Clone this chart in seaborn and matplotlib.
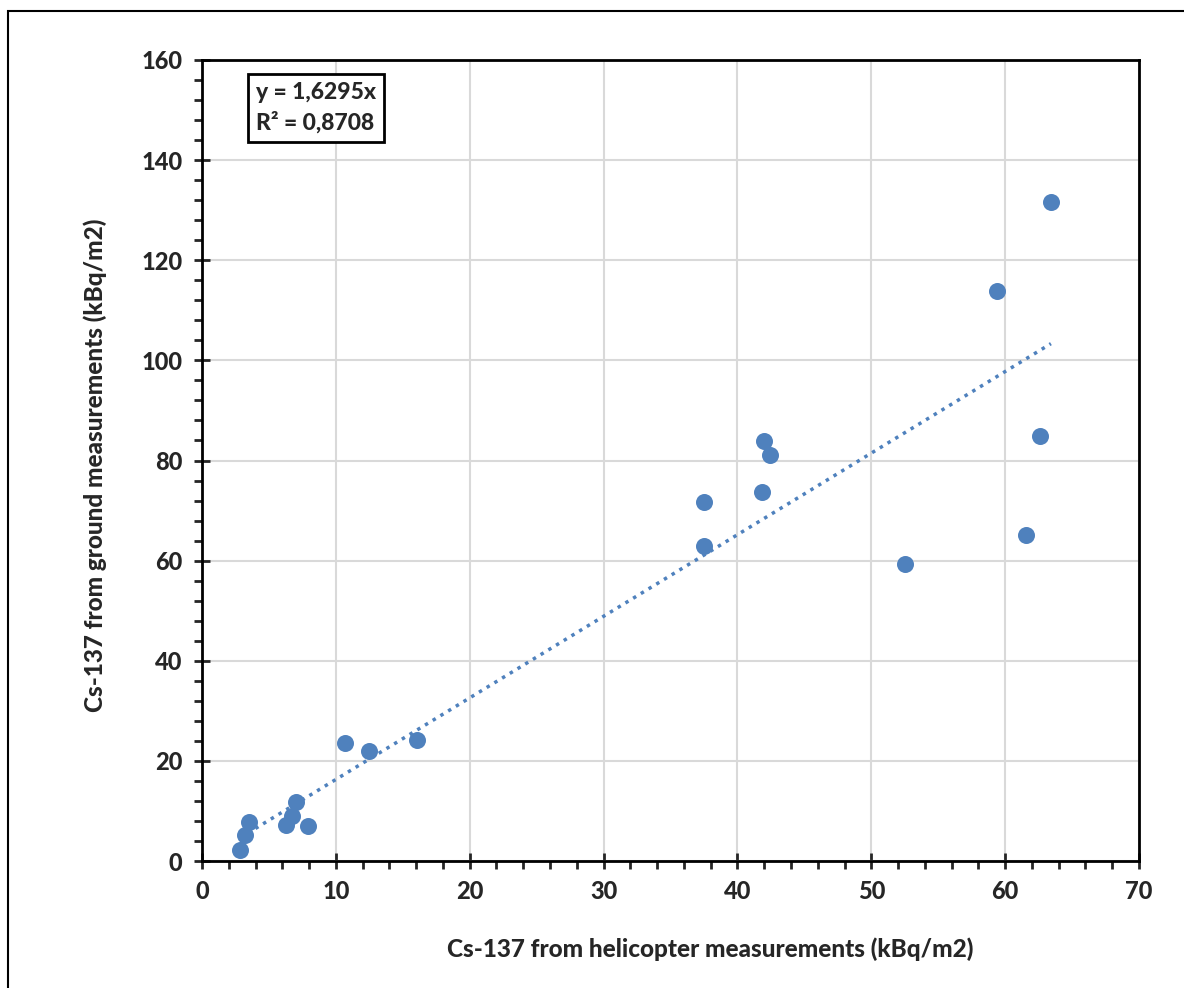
import numpy as np
import pandas as pd
import seaborn as sns
import matplotlib.pyplot as plt
from matplotlib.patches import Rectangle
from matplotlib.ticker import MultipleLocator

# Cs-137 deposition, helicopter vs ground (kBq/m2)
heli = [2.84, 3.21, 3.51, 6.28, 6.72, 7.02, 7.92, 10.68, 12.48, 16.06,
        37.5, 37.5, 41.83, 41.98, 42.43, 52.52, 59.39, 61.56, 62.6, 63.42]
ground = [2.2, 5.2, 7.8, 7.2, 9.0, 11.8, 7.0, 23.6, 22.0, 24.2,
          62.9, 71.7, 73.7, 83.9, 81.1, 59.3, 113.9, 65.1, 84.9, 131.6]
slope = 1.6295
r2_text = "0,8708"

df = pd.DataFrame({"heli": heli, "ground": ground})
trend = pd.DataFrame({"heli": [min(heli), max(heli)]})
trend["ground"] = slope * trend["heli"]

sns.set_style("white")
plt.rcParams["font.family"] = ["Lato", "DejaVu Sans"]
W = 900  # heavy weight to mimic the bold Calibri of the original

blue = "#4F81BD"
fig = plt.figure(figsize=(11.84, 9.88), dpi=100)
ax = fig.add_axes([0.1706, 0.1285, 0.7914, 0.8108])

ax.grid(True, color="#d9d9d9", linewidth=1.5, zorder=0)
ax.set_axisbelow(True)

sns.lineplot(data=trend, x="heli", y="ground", ax=ax, color=blue,
             linestyle=(0, (1, 1.6)), linewidth=2.5, zorder=2)
sns.scatterplot(data=df, x="heli", y="ground", ax=ax, color=blue, s=150,
                edgecolor=blue, linewidth=0, zorder=3)

ax.set_xlim(0, 70)
ax.set_ylim(0, 160)
ax.xaxis.set_major_locator(MultipleLocator(10))
ax.xaxis.set_minor_locator(MultipleLocator(2))
ax.yaxis.set_major_locator(MultipleLocator(20))
ax.yaxis.set_minor_locator(MultipleLocator(4))
ax.tick_params(which="major", direction="inout", length=12, width=2, labelsize=17, pad=8)
ax.tick_params(which="minor", direction="out", length=6, width=2)
ax.tick_params(axis="both", which="both", bottom=True, left=True, top=False, right=False)
for lbl in ax.get_xticklabels() + ax.get_yticklabels():
    lbl.set_fontweight(W)

for sp in ax.spines.values():
    sp.set_color("black")
    sp.set_linewidth(2)

ax.set_xlabel("Cs-137 from helicopter measurements (kBq/m2)", fontsize=17.5,
              fontweight=W)
ax.set_ylabel("Cs-137 from ground measurements (kBq/m2)", fontsize=17.5,
              fontweight=W)
ax.xaxis.set_label_coords(0.542, -0.095)
ax.yaxis.set_label_coords(-0.101, 0.494)

ax.text(0.058, 0.972, f"y = {slope:.4f}x".replace(".", ",") + f"\nR² = {r2_text}",
        transform=ax.transAxes, ha="left", va="top", fontsize=16.5,
        fontweight=W, linespacing=1.45,
        bbox=dict(boxstyle="square,pad=0.35", facecolor="white",
                  edgecolor="black", linewidth=2))

fig.patches.append(Rectangle((8 / 1184, -0.05), 1.2, 1 - 11 / 988 + 0.05,
                             transform=fig.transFigure, fill=False,
                             edgecolor="black", linewidth=1.5))

fig.savefig("out.png", dpi=100)
